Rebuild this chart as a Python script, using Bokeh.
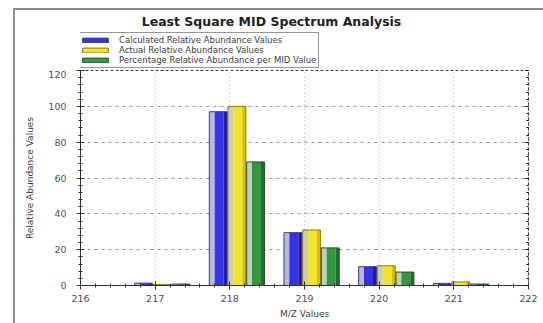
from bokeh.plotting import figure
from bokeh.layouts import column
from bokeh.models import (Legend, LegendItem, LinearAxis, Range1d, FixedTicker, Label)
from bokeh.embed import file_html
from bokeh.resources import INLINE
import numpy as np

# ---- data ----
mz = [217, 218, 219, 220, 221]
calculated = [1.3, 97, 29.5, 10.5, 1.2]
actual = [0.5, 100, 31, 11, 2]
percentage = [0.8, 69, 21, 7.5, 0.8]
series_names = ["Calculated Relative Abundance Values",
                "Actual Relative Abundance Values",
                "Percentage Relative Abundance per MID Value"]
chart_title = "Least Square MID Spectrum Analysis"
x_ticks = [216, 217, 218, 219, 220, 221, 222]
y_ticks = [0, 20, 40, 60, 80, 100, 120]

# ---- styles ----
offsets = [-0.155, 0.095, 0.345]
bar_w = 0.24
light = ["#b4b8e6", "#cfcdb0", "#bcd2bc"]
main = ["#3434e6", "#f2e42a", "#34963e"]
dark = ["#1c1ca8", "#d8c000", "#1f6e2a"]
edge = ["#404060", "#8a7a10", "#304830"]
frame_grey = "#8c8c8c"

W, HEADER_H = 543, 70
FRAME_L, FRAME_R = 80, 528

# ---------- header (title + legend) ----------
hdr = figure(width=W, height=HEADER_H, x_range=Range1d(FRAME_L, FRAME_R), y_range=Range1d(HEADER_H, 0),
             output_backend="svg", toolbar_location=None, x_axis_type=None, y_axis_type=None,
             min_border_left=FRAME_L, min_border_right=W - FRAME_R, min_border_top=0, min_border_bottom=0)
hdr.grid.visible = False
hdr.outline_line_color = None
hdr.background_fill_alpha = 0
hdr.border_fill_alpha = 0
hdr.styles = {"background": f"linear-gradient({frame_grey},{frame_grey}) 13px 8px / 2px 100% no-repeat, "
                            f"linear-gradient({frame_grey},{frame_grey}) 13px 8px / 100% 2px no-repeat, white"}

hdr.add_layout(Label(x=271, y=21, text=chart_title, text_align="center", text_baseline="middle",
                     text_font="DejaVu Sans", text_font_size="12.5px", text_font_style="bold",
                     text_color="#202020"))

items = []
for i, vals in enumerate([calculated, actual, percentage]):
    # hidden proxies carrying the series' style for the legend swatches
    r = hdr.vbar(x=mz, top=vals, width=1, fill_color=main[i], line_color=edge[i], visible=False)
    items.append(LegendItem(label=series_names[i], renderers=[r]))

legend = Legend(items=items, location=(-4, 2), orientation="vertical",
                label_text_font="DejaVu Sans", label_text_font_size="8.5px",
                label_text_color="#404040", label_height=8, label_standoff=8,
                glyph_width=32, glyph_height=6, spacing=0, padding=2, margin=0,
                border_line_color="#303030", border_line_width=1,
                background_fill_color="white")
hdr.add_layout(legend, "center")

# ---------- main chart ----------
p = figure(width=W, height=323 - HEADER_H, x_range=Range1d(216, 222), y_range=Range1d(0, 120),
           output_backend="svg", toolbar_location=None, title=None,
           min_border_left=FRAME_L, min_border_right=W - FRAME_R, min_border_top=0, min_border_bottom=38)
p.border_fill_alpha = 0
p.background_fill_color = "white"
p.styles = {"background": f"linear-gradient({frame_grey},{frame_grey}) 13px 0 / 2px 100% no-repeat, white"}

x_minor = list(np.arange(216, 222.01, 0.2))
y_minor = list(np.arange(0, 120.1, 4))
p.xaxis.ticker = FixedTicker(ticks=x_ticks, minor_ticks=x_minor)
p.yaxis.ticker = FixedTicker(ticks=y_ticks, minor_ticks=y_minor)

for i, vals in enumerate([calculated, actual, percentage]):
    xc = np.array(mz, dtype=float) + offsets[i]
    top = np.array(vals, dtype=float)
    p.vbar(x=xc - bar_w * 0.35, top=top, bottom=0, width=bar_w * 0.3,
           fill_color=light[i], line_color=None)
    p.vbar(x=xc + bar_w * 0.05, top=top, bottom=0, width=bar_w * 0.5,
           fill_color=main[i], line_color=None)
    p.vbar(x=xc + bar_w * 0.4, top=top, bottom=0, width=bar_w * 0.2,
           fill_color=dark[i], line_color=None)
    p.vbar(x=xc, top=top, bottom=0, width=bar_w, fill_color=None,
           line_color=edge[i], line_width=1)

# grids
p.xgrid.grid_line_color = "#e08a8a"
p.xgrid.grid_line_dash = "1 3"
p.ygrid.grid_line_color = "#8a8ad8"
p.ygrid.grid_line_dash = "3 4"

# axes
for ax in [p.xaxis[0], p.yaxis[0]]:
    ax.axis_line_color = "#303030"
    ax.major_tick_line_color = "#303030"
    ax.minor_tick_line_color = "#303030"
    ax.major_tick_in = 4
    ax.major_tick_out = 4
    ax.minor_tick_in = 2
    ax.minor_tick_out = 2
    ax.major_label_text_font = "DejaVu Sans"
    ax.major_label_text_font_size = "9.5px"
    ax.major_label_text_color = "#505050"
    ax.axis_label_text_font = "DejaVu Sans"
    ax.axis_label_text_font_size = "9px"
    ax.axis_label_text_font_style = "normal"
    ax.axis_label_text_color = "#404040"
p.xaxis.axis_label = "M/Z Values"
p.yaxis.axis_label = "Relative Abundance Values"
p.xaxis.major_label_standoff = 5
p.yaxis.major_label_standoff = 10
p.xaxis.axis_label_standoff = 4
p.yaxis.axis_label_standoff = 10

right_ax = LinearAxis(ticker=FixedTicker(ticks=y_ticks, minor_ticks=y_minor),
                      major_label_overrides={t: "" for t in y_ticks},
                      axis_line_color="#404040", axis_line_dash="3 2",
                      major_tick_in=3, major_tick_out=0, minor_tick_in=2, minor_tick_out=0,
                      major_label_standoff=0)
p.add_layout(right_ax, "right")
p.outline_line_color = "#404040"
p.outline_line_dash = "3 2"

layout = column(hdr, p, spacing=0)
open("out.html", "w").write(file_html(layout, INLINE))
